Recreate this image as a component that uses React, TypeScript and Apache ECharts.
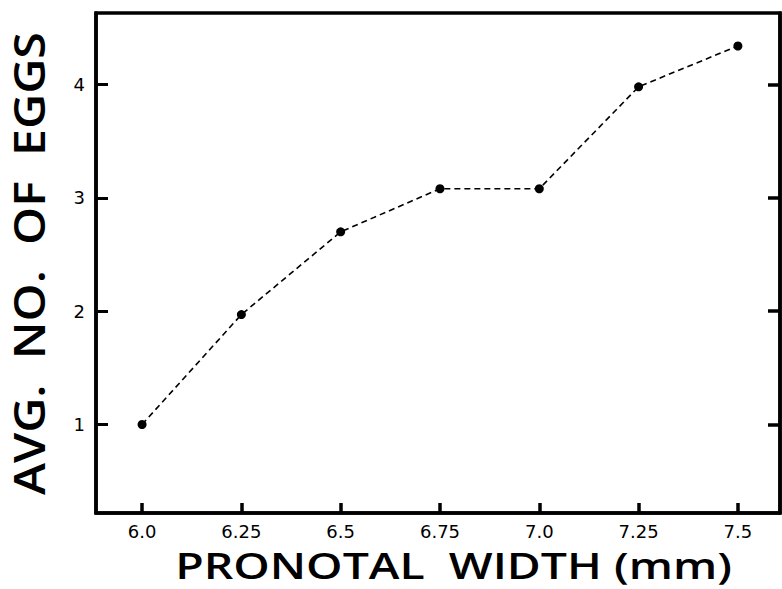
import React, { useEffect, useRef } from "react";
import * as echarts from "echarts";

const widths = [6.0, 6.25, 6.5, 6.75, 7.0, 7.25, 7.5];
const avgEggs = [1.0, 1.97, 2.7, 3.08, 3.08, 3.98, 4.34];
const xTickLabels = ["6.0", "6.25", "6.5", "6.75", "7.0", "7.25", "7.5"];
const yTicks = [1, 2, 3, 4];
const xTitle = "PRONOTAL  WIDTH (mm)";
const yTitle = "AVG.  NO.  OF  EGGS";

function measure(text: string, font: string): number {
  const c = document.createElement("canvas").getContext("2d");
  if (!c) return 1;
  c.font = font;
  return c.measureText(text).width || 1;
}

export default function App() {
  const ref = useRef<HTMLDivElement>(null);
  useEffect(() => {
    if (!ref.current) return;
    const chart = echarts.init(ref.current, null, { renderer: "svg" });
    const titleFamily = "'Open Sans', 'DejaVu Sans', sans-serif";
    const tickFamily = "'DejaVu Sans', sans-serif";
    const xTitleSize = 36;
    const yTitleSize = 43;
    const xScale = 557 / measure(xTitle, `600 ${xTitleSize}px 'Open Sans'`);
    const yScale = 463 / measure(yTitle, `600 ${yTitleSize}px 'Open Sans'`);
    chart.setOption({
      animation: false,
      backgroundColor: "#fff",
      grid: {
        left: 96,
        top: 13,
        right: 2,
        bottom: 76,
        show: true,
        borderColor: "#000",
        borderWidth: 3.5,
      },
      xAxis: {
        type: "value",
        min: 5.884,
        max: 7.606,
        axisLine: { show: true, lineStyle: { color: "#000", width: 3.5 } },
        splitLine: { show: false },
        axisTick: {
          show: true,
          inside: true,
          length: 10,
          lineStyle: { color: "#000", width: 3.5 },
          customValues: widths,
        },
        axisLabel: {
          customValues: widths,
          margin: 9,
          fontSize: 18,
          color: "#000",
          fontFamily: tickFamily,
          formatter: (v: number) => {
            const i = widths.findIndex((w) => Math.abs(w - v) < 1e-6);
            return i >= 0 ? xTickLabels[i] : "";
          },
        },
      },
      yAxis: [
        {
          type: "value",
          min: 0.219,
          max: 4.631,
          position: "left",
          axisLine: { show: true, lineStyle: { color: "#000", width: 3.5 } },
          splitLine: { show: false },
          axisTick: {
            show: true,
            inside: true,
            length: 12,
            lineStyle: { color: "#000", width: 3 },
            customValues: yTicks,
          },
          axisLabel: {
            customValues: yTicks,
            margin: 11,
            fontSize: 18,
            color: "#000",
            fontFamily: tickFamily,
          },
        },
        {
          type: "value",
          min: 0.219,
          max: 4.631,
          position: "right",
          axisLine: { show: true, lineStyle: { color: "#000", width: 3.5 } },
          splitLine: { show: false },
          axisTick: {
            show: true,
            inside: true,
            length: 12,
            lineStyle: { color: "#000", width: 3.5 },
            customValues: yTicks,
          },
          axisLabel: { show: false },
        },
      ],
      graphic: [
        {
          type: "text",
          x: 453.5,
          y: 565,
          scaleX: xScale,
          style: {
            text: xTitle,
            x: 0,
            y: 0,
            align: "center",
            verticalAlign: "middle",
            fontSize: xTitleSize,
            fontWeight: 600,
            fontFamily: titleFamily,
            fill: "#000",
          },
        },
        {
          type: "text",
          x: 28,
          y: 263.5,
          rotation: Math.PI / 2,
          scaleX: yScale,
          style: {
            text: yTitle,
            x: 0,
            y: 0,
            align: "center",
            verticalAlign: "middle",
            fontSize: yTitleSize,
            fontWeight: 600,
            fontFamily: titleFamily,
            fill: "#000",
          },
        },
      ],
      series: [
        {
          type: "line",
          data: widths.map((w, i) => [w, avgEggs[i]]),
          symbol: "circle",
          symbolSize: 9,
          itemStyle: { color: "#000" },
          lineStyle: { color: "#000", width: 1.6, type: [6, 4] },
        },
      ],
    });
    return () => chart.dispose();
  }, []);
  return (
    <div
      ref={ref}
      style={{ position: "fixed", left: 0, top: 0, width: 782, height: 589 }}
    />
  );
}
